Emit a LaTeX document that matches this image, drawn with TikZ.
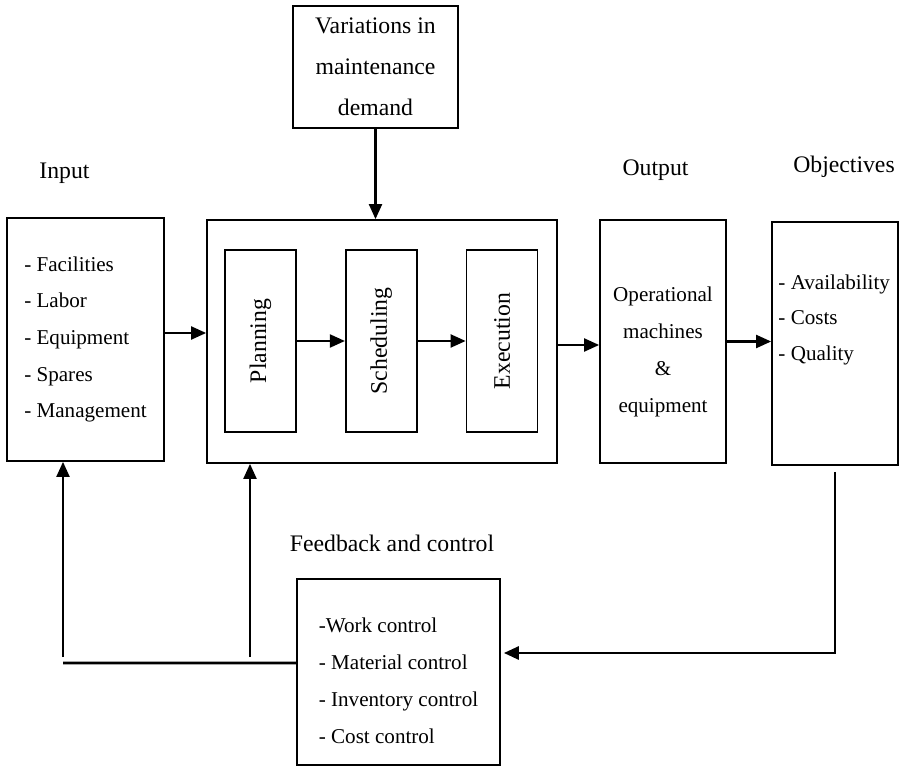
\documentclass[tikz,border=0pt]{standalone}
\usepackage{fontspec}
\setmainfont{Liberation Serif}
\usetikzlibrary{arrows.meta,positioning}

\begin{document}
\begin{tikzpicture}[
    node distance=0.96cm,
    box/.style={draw, line width=1pt, inner sep=0pt, font=\fontsize{12}{20.8}\selectfont},
    stage/.style={box, minimum width=1.42cm, minimum height=3.64cm, font=\fontsize{13.5}{16}\selectfont},
    tag/.style={inner sep=0pt, font=\fontsize{13.5}{16}\selectfont},
    txt/.style={inner sep=0pt, font=\fontsize{12}{20.8}\selectfont},
    arr/.style={-{Triangle[length=0.3cm, width=0.26cm]}, line width=1.2pt},
    fbline/.style={line width=1.6pt}
  ]
    \useasboundingbox (0,0) rectangle (18.04,-15.34);

    % top disturbance
    \node[box, minimum width=3.3cm, minimum height=2.44cm, align=center, font=\fontsize{13.5}{23.3}\selectfont] (var) at (7.51,-1.34) {Variations in\\maintenance\\demand};

    % headings
    \node[tag] (inlbl) at (1.29,-3.46) {Input};
    \node[tag] (outlbl) at (13.11,-3.40) {Output};
    \node[tag] (objlbl) at (16.88,-3.34) {Objectives};
    \node[tag] (fblbl) at (7.84,-10.86) {Feedback and control};

    % input
    \node[box, minimum width=3.14cm, minimum height=4.86cm, align=left] (in) at (1.71,-6.79) {- Facilities\\- Labor\\- Equipment\\- Spares\\- Management};

    % maintenance process
    \node[box, minimum width=7cm, minimum height=4.86cm] (main) at (7.64,-6.83) {};
    \node[stage] (plan) at (5.21,-6.82) {\rotatebox{90}{Planning}};
    \node[stage, right=of plan] (sched) {\rotatebox{90}{Scheduling}};
    \node[stage, right=of sched] (exec) {\rotatebox{90}{Execution}};

    % output and objectives
    \node[box, minimum width=2.52cm, minimum height=4.86cm] (oper) at (13.26,-6.83) {};
    \node[txt, align=center, font=\fontsize{12}{21.2}\selectfont] (opertxt) at ([yshift=-0.21cm]oper.center) {Operational\\machines\\\&\\equipment};
    \node[box, minimum width=2.52cm, minimum height=4.86cm] (obj) at (16.7,-6.87) {};
    \node[txt, anchor=north west, align=left, font=\fontsize{12}{20.3}\selectfont] (objtxt) at ([xshift=0.14cm, yshift=-1.06cm]obj.north west) {- Availability\\- Costs\\- Quality};

    % feedback
    \node[box, minimum width=4.06cm, minimum height=3.72cm] (fb) at (7.97,-13.44) {};
    \node[txt, align=left, font=\fontsize{12}{21}\selectfont] (fbtxt) at ([yshift=-0.17cm]fb.center) {-Work control\\- Material control\\- Inventory control\\- Cost control};

    \draw[arr] (var.south) -- (var.south |- main.north);
    \draw[arr] ([yshift=0.13cm]in.east) -- ([yshift=0.13cm]in.east -| main.west);
    \draw[arr] (plan.east) -- (sched.west);
    \draw[arr] (sched.east) -- (exec.west);
    \draw[arr] ([yshift=-0.07cm]main.east) -- ([yshift=-0.07cm]main.east -| oper.west);
    \draw[arr] (oper.east) -- (oper.east -| obj.west);

    % feedback loops
    \draw[arr, line width=1.6pt] ([yshift=-0.12cm]obj.south) |- ([xshift=0.06cm, yshift=0.38cm]fb.east);
    \coordinate (fbL) at (1.26,-13.26);
    \coordinate (fbM) at (5.0,-13.26);
    \draw[fbline] ([yshift=0.18cm]fb.west) -- (fbL);
    \draw[arr] ([yshift=0.12cm]fbL) -- (fbL |- in.south);
    \draw[arr] ([yshift=0.12cm]fbM) -- (fbM |- main.south);
  \end{tikzpicture}
\end{document}
